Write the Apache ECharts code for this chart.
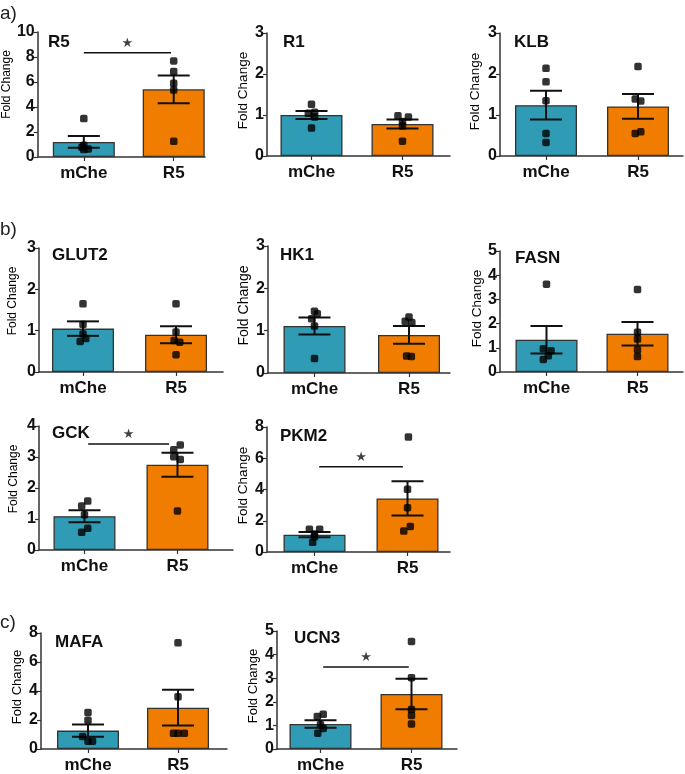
<!DOCTYPE html>
<html>
<head>
    <meta charset="utf-8">
    <title>Fold Change</title>
    <script src="https://cdn.jsdelivr.net/npm/echarts@6.0.0/dist/echarts.min.js"></script>
    <style>
        html, body { margin: 0; padding: 0; background: #fff; }
        #chart { width: 685px; height: 774px; }
    </style>
</head>
<body>
<div id="chart"></div>
<script>
    // groups on the x axis
    const categories = ['mChe', 'R5'];
    const genes = ['R5', 'R1', 'KLB', 'GLUT2', 'HK1', 'FASN', 'GCK', 'PKM2', 'MAFA', 'UCN3'];
    const yMax = [10, 3, 3, 3, 3, 5, 4, 8, 8, 5];
    const yStep = [2, 1, 1, 1, 1, 1, 1, 2, 2, 1];

    // bar height (mean) and SEM per group
    const meanR5 = [1.21, 5.42],   semR5 = [0.47, 1.11];
    const meanR1 = [1.00, 0.78],   semR1 = [0.10, 0.11];
    const meanKLB = [1.24, 1.21],  semKLB = [0.35, 0.30];
    const meanGLUT2 = [1.05, 0.90], semGLUT2 = [0.175, 0.205];
    const meanHK1 = [1.11, 0.90],  semHK1 = [0.20, 0.21];
    const meanFASN = [1.33, 1.58], semFASN = [0.57, 0.49];
    const meanGCK = [1.09, 2.75],  semGCK = [0.195, 0.385];
    const meanPKM2 = [1.11, 3.43], semPKM2 = [0.17, 1.10];
    const meanMAFA = [1.27, 2.85], semMAFA = [0.42, 1.23];
    const meanUCN3 = [1.06, 2.33], semUCN3 = [0.16, 0.65];

    // individual points [mChe, R5]
    const ptsR5 = [[3.08, 0.95, 0.78, 0.65, 0.60], [7.69, 6.84, 5.90, 5.36, 1.26]];
    const ptsR1 = [[1.26, 1.07, 1.04, 0.95, 0.68], [0.98, 0.95, 0.84, 0.73, 0.36]];
    const ptsKLB = [[2.14, 1.81, 1.35, 0.55, 0.33], [2.18, 1.39, 1.34, 0.55, 0.59]];
    const ptsGLUT2 = [[1.65, 1.15, 0.92, 0.81, 0.74], [1.65, 0.97, 0.76, 0.72, 0.42]];
    const ptsHK1 = [[1.46, 1.40, 1.28, 1.11, 0.34], [1.32, 1.22, 1.19, 0.40, 0.39]];
    const ptsFASN = [[3.63, 0.96, 0.88, 0.67, 0.52], [3.41, 1.64, 1.36, 0.92, 0.64]];
    const ptsGCK = [[1.58, 1.42, 1.14, 0.70, 0.57], [3.39, 3.23, 3.01, 2.92, 1.26]];
    const ptsPKM2 = [[1.45, 1.45, 1.15, 0.97, 0.62], [7.36, 4.01, 2.84, 1.64, 1.34]];
    const ptsMAFA = [[2.52, 1.98, 0.86, 0.54, 0.54], [7.32, 3.60, 1.08, 1.08, 1.08]];
    const ptsUCN3 = [[1.47, 1.38, 1.03, 0.87, 0.67], [4.56, 3.02, 1.67, 1.42, 1.06]];

    // horizontal spread of points (x-axis units)
    const jitR5 = [[0, 0, -0.02, 0.05, 0], [0, 0, 0, 0, 0]];
    const jitR1 = [[0, 0.035, -0.035, 0.035, 0], [-0.05, 0.065, 0, 0, 0]];
    const jitKLB = [[0, 0, 0, 0, 0], [0, -0.03, 0.03, -0.03, 0.03]];
    const jitGLUT2 = [[0, 0, 0, 0.03, -0.03], [0, 0, -0.02, 0.04, 0]];
    const jitHK1 = [[0, 0.03, -0.03, 0, 0], [0, -0.04, 0.03, -0.025, 0.025]];
    const jitFASN = [[0, -0.035, 0.05, 0.02, -0.035], [0, 0, 0, 0, 0]];
    const jitGCK = [[0.035, -0.03, 0, 0.035, -0.03], [0.03, -0.04, -0.04, 0.03, 0]];
    const jitPKM2 = [[-0.055, 0.055, 0, 0, -0.02], [0.01, 0, 0, 0.03, -0.04]];
    const jitMAFA = [[0, 0, -0.06, 0, 0.05], [0, 0, -0.05, 0, 0.07]];
    const jitUCN3 = [[0.03, -0.035, 0, 0.03, -0.03], [0, 0, 0, 0, 0]];

    const means = [meanR5, meanR1, meanKLB, meanGLUT2, meanHK1, meanFASN, meanGCK, meanPKM2, meanMAFA, meanUCN3];
    const sems = [semR5, semR1, semKLB, semGLUT2, semHK1, semFASN, semGCK, semPKM2, semMAFA, semUCN3];
    const points = [ptsR5, ptsR1, ptsKLB, ptsGLUT2, ptsHK1, ptsFASN, ptsGCK, ptsPKM2, ptsMAFA, ptsUCN3];
    const jitters = [jitR5, jitR1, jitKLB, jitGLUT2, jitHK1, jitFASN, jitGCK, jitPKM2, jitMAFA, jitUCN3];

    // significance brackets: panel index, x from, x to, y
    const sigPanels = [0, 6, 7, 9];
    const sigX1 = [1.0, 1.04, 1.05, 1.03];
    const sigX2 = [1.97, 1.91, 1.95, 1.97];
    const sigY = [8.35, 3.42, 5.45, 3.47];

    // layout of each small plot (pixels), its x range, title spot and axis-name tweaks
    const layout = [
        { left: 31,  top: 32,  w: 174, h: 125, xmin: 0.487, xmax: 2.348, tl: 48,  tt: 34,  gap: 16, ns: 12,   up: 10 },
        { left: 267, top: 33,  w: 183, h: 123, xmin: 0.511, xmax: 2.522, tl: 283, tt: 34,  gap: 17, ns: 13.5, up: 4 },
        { left: 500, top: 33,  w: 183, h: 123, xmin: 0.5,   xmax: 2.489, tl: 514, tt: 34,  gap: 18, ns: 13.5, up: 3 },
        { left: 39,  top: 248, w: 184, h: 124, xmin: 0.527, xmax: 2.505, tl: 52,  tt: 247, gap: 20, ns: 12,   up: 9 },
        { left: 268, top: 246, w: 182, h: 127, xmin: 0.508, xmax: 2.434, tl: 280, tt: 247, gap: 17, ns: 14,   up: 4 },
        { left: 500, top: 251, w: 183, h: 121, xmin: 0.489, xmax: 2.5,   tl: 515, tt: 250, gap: 16, ns: 13.5, up: 3 },
        { left: 39,  top: 426, w: 194, h: 124, xmin: 0.511, xmax: 2.597, tl: 52,  tt: 425, gap: 19, ns: 12,   up: 9 },
        { left: 267, top: 427, w: 183, h: 125, xmin: 0.489, xmax: 2.457, tl: 280, tt: 428, gap: 17, ns: 13.5, up: 4 },
        { left: 41,  top: 633, w: 186, h: 119, xmin: 0.478, xmax: 2.544, tl: 55,  tt: 634, gap: 17, ns: 13,   up: 4 },
        { left: 277, top: 631, w: 180, h: 121, xmin: 0.522, xmax: 2.5,   tl: 294, tt: 630, gap: 17, ns: 13,   up: 4 }
    ];

    const colors = ['#2f9bb5', '#f07d00'];
    const axisColor = '#333';
    const font = 'Liberation Sans, Arial, sans-serif';

    const grid = [], xAxis = [], yAxis = [], series = [], title = [];

    const sectionStyle = { fontFamily: font, fontSize: 19, fontWeight: 'normal', color: '#222' };
    title.push({ text: 'a)', left: 0, top: 4, padding: 0, textStyle: sectionStyle });
    title.push({ text: 'b)', left: 0, top: 220, padding: 0, textStyle: sectionStyle });
    title.push({ text: 'c)', left: 0, top: 613, padding: 0, textStyle: sectionStyle });

    genes.forEach(function (g, i) {
        const L = layout[i];
        grid.push({ left: L.left, top: L.top, width: L.w, height: L.h, containLabel: false });
        title.push({
            text: g, left: L.tl, top: L.tt, padding: 0,
            textStyle: { fontFamily: font, fontSize: 17, fontWeight: 'bold', color: '#111' }
        });
        xAxis.push({
            type: 'value', gridIndex: i, min: L.xmin, max: L.xmax,
            splitLine: { show: false },
            axisLine: { show: true, lineStyle: { color: axisColor, width: 1.5 } },
            axisTick: { show: true, customValues: [1, 2], length: 4, lineStyle: { color: axisColor, width: 1.2 } },
            axisLabel: {
                customValues: [1, 2], margin: 8,
                formatter: function (v) { return categories[Math.round(v) - 1] || ''; },
                fontFamily: font, fontSize: 17, fontWeight: 'bold', color: '#111'
            }
        });
        yAxis.push({
            type: 'value', gridIndex: i, min: 0, max: yMax[i], interval: yStep[i],
            name: 'Fold Change', nameLocation: 'middle', nameGap: L.gap,
            nameTextStyle: { fontFamily: font, fontSize: L.ns, color: '#000', padding: [0, 0, 0, 2 * L.up] },
            splitLine: { show: false },
            axisLine: { show: true, lineStyle: { color: axisColor, width: 1.5 } },
            axisTick: { show: true, length: 4, lineStyle: { color: axisColor, width: 1.2 } },
            axisLabel: { margin: 3, fontFamily: font, fontSize: 16, fontWeight: 'bold', color: '#111' }
        });

        // bars
        series.push({
            type: 'bar', xAxisIndex: i, yAxisIndex: i, barWidth: 62, z: 2,
            data: categories.map(function (c, k) {
                return { value: [k + 1, means[i][k]], itemStyle: { color: colors[k], borderColor: '#333', borderWidth: 1.3 } };
            })
        });
        // mean ± SEM
        series.push({
            type: 'custom', xAxisIndex: i, yAxisIndex: i, z: 3,
            data: categories.map(function (c, k) { return [k + 1, means[i][k], sems[i][k]]; }),
            renderItem: function (params, api) {
                const x = api.value(0), m = api.value(1), s = api.value(2);
                const hi = api.coord([x, m + s]);
                const lo = api.coord([x, m - s]);
                const st = { stroke: '#111', lineWidth: 2 };
                return {
                    type: 'group',
                    children: [
                        { type: 'line', shape: { x1: hi[0], y1: hi[1], x2: lo[0], y2: lo[1] }, style: st },
                        { type: 'line', shape: { x1: hi[0] - 16, y1: hi[1], x2: hi[0] + 16, y2: hi[1] }, style: st },
                        { type: 'line', shape: { x1: lo[0] - 16, y1: lo[1], x2: lo[0] + 16, y2: lo[1] }, style: st }
                    ]
                };
            }
        });
        // individual points
        const pd = [];
        categories.forEach(function (c, k) {
            points[i][k].forEach(function (v, n) { pd.push([k + 1 + jitters[i][k][n], v]); });
        });
        series.push({
            type: 'scatter', xAxisIndex: i, yAxisIndex: i, z: 4,
            symbol: 'roundRect', symbolSize: 7.5,
            itemStyle: { color: '#000' },
            data: pd
        });
    });

    // significance lines with star
    sigPanels.forEach(function (p, j) {
        series.push({
            type: 'line', xAxisIndex: p, yAxisIndex: p, z: 5,
            symbol: 'none', silent: true,
            lineStyle: { color: '#111', width: 1.5 },
            data: [[sigX1[j], sigY[j]], [sigX2[j], sigY[j]]]
        });
        series.push({
            type: 'scatter', xAxisIndex: p, yAxisIndex: p, z: 5,
            symbolSize: 0, silent: true,
            label: {
                show: true, position: 'top', distance: 3, formatter: '\u2605',
                fontFamily: 'DejaVu Sans', fontSize: 13, color: '#111'
            },
            data: [[(sigX1[j] + sigX2[j]) / 2, sigY[j]]]
        });
    });

    const chart = echarts.init(document.getElementById('chart'));
    chart.setOption({
        animation: false,
        title: title,
        grid: grid,
        xAxis: xAxis,
        yAxis: yAxis,
        series: series
    });
</script>
</body>
</html>
